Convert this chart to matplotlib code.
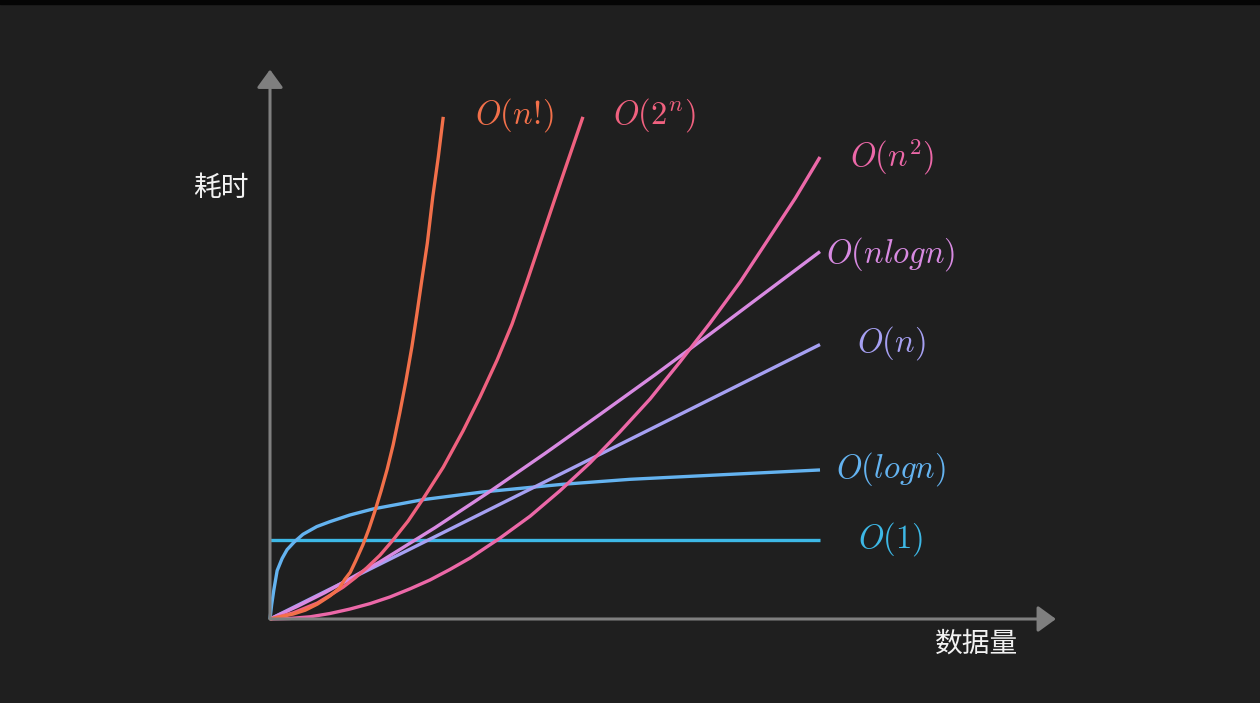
import matplotlib
matplotlib.use("Agg")
import matplotlib.pyplot as plt
from matplotlib.patches import Rectangle

plt.rcParams['mathtext.fontset'] = 'cm'

# values (x: data size, y: time), both on a 0-100 scale
x_const = [0, 100]
y_const = [14.4, 14.4]

x_log = [0, 0.3, 0.7, 1.3, 2.2, 3.1, 4.4, 6.0, 8.5, 10.9, 14.5, 18.7, 27.8, 38.7, 53.3, 65.5, 83.6, 100]
y_log = [0, 2.6, 5.3, 8.8, 11.0, 12.6, 14.0, 15.4, 16.8, 17.7, 18.9, 20.0, 21.7, 23.1, 24.5, 25.4, 26.3, 27.1]

x_lin = [0, 50, 100]
y_lin = [0, 24.95, 49.9]

x_nlogn = [0, 5, 10, 20, 30, 40, 50, 60, 70, 80, 90, 100]
y_nlogn = [0, 2.3, 4.8, 10.4, 16.6, 23.2, 30.1, 37.2, 44.4, 51.8, 59.3, 66.8]

x_sq = [0, 3.6, 7.3, 10.9, 14.5, 18.2, 21.8, 25.5, 29.1, 32.7, 36.4, 41.8, 47.3, 52.7,
        58.2, 63.6, 69.1, 74.5, 80.0, 85.5, 90.9, 95.5, 100]
y_sq = [0, 0.1, 0.4, 1.0, 1.8, 2.8, 4.0, 5.5, 7.1, 9.0, 11.1, 14.7, 18.7, 23.3,
        28.4, 34.0, 40.0, 46.7, 53.8, 61.3, 69.5, 76.5, 84.0]

x_exp = [0, 4.2, 8.6, 10.9, 13.3, 15.5, 17.6, 20.0, 22.4, 25.1, 27.8, 31.5, 35.1,
         38.2, 41.3, 44.0, 46.7, 51.8, 56.9]
y_exp = [0, 1.1, 2.9, 4.3, 5.8, 7.5, 9.3, 11.6, 14.4, 17.8, 21.8, 27.6, 34.2,
         40.4, 47.1, 53.6, 61.3, 76.4, 91.3]

x_fact = [0, 4.2, 6.4, 8.6, 10.9, 12.6, 13.6, 14.6, 15.6, 16.9, 18.0, 19.1, 20.2, 21.3,
          22.4, 23.6, 24.7, 25.8, 26.7, 27.6, 28.6, 29.6, 30.6, 31.5]
y_fact = [0, 0.9, 1.6, 2.7, 4.2, 5.6, 7.2, 8.5, 10.6, 13.5, 16.4, 19.7, 23.3, 27.2,
          31.7, 37.5, 43.2, 49.5, 55.4, 61.6, 68.3, 76.8, 84.0, 91.3]

labels = [r'$O(1)$', r'$O(logn)$', r'$O(n)$', r'$O(nlogn)$', r'$O(n^2)$', r'$O(2^n)$', r'$O(n!\!)$']
colors = ['#3db8e6', '#64b3f0', '#a6a0f2', '#d88ae2', '#ec68a8', '#f0617f', '#f2704a']
label_pos = [(106.9, 14.6), (102.9, 27.3), (106.7, 50.2), (101.1, 66.4),
             (105.5, 84.0), (62.4, 91.7), (37.3, 91.7)]

bg = '#1f1f1f'
fig = plt.figure(figsize=(12.6, 7.03), dpi=100, facecolor=bg)
ax = fig.add_axes([0, 0, 1, 1])
ax.set_facecolor(bg)
ax.set_xlim(-270 / 5.5, 990 / 5.5)
ax.set_ylim(-84 / 5.5, 619 / 5.5)
ax.axis('off')

# thin black strip along the top edge
fig.patches.append(Rectangle((0, 1 - 4 / 703), 1, 4 / 703, transform=fig.transFigure,
                             color='#050505', zorder=0))

# axes with arrow heads
axis_col = '#7f7f7f'
arrow = dict(arrowstyle='-|>,head_length=0.55,head_width=0.4', color=axis_col,
             lw=2.2, shrinkA=0, shrinkB=0, mutation_scale=20)
ax.annotate('', xy=(0, 99.9), xytext=(0, 0), arrowprops=arrow)
ax.annotate('', xy=(142.9, 0), xytext=(0, 0), arrowprops=arrow)

series = [(x_const, y_const), (x_log, y_log), (x_lin, y_lin), (x_nlogn, y_nlogn),
          (x_sq, y_sq), (x_exp, y_exp), (x_fact, y_fact)]
for (xs, ys), lab, col, (lx, ly) in zip(series, labels, colors, label_pos):
    ax.plot(xs, ys, color=col, lw=2.4, solid_capstyle='butt', solid_joinstyle='round')
    ax.text(lx, ly, lab, color=col, fontsize=23.5, ha='left', va='center')

cjk = ['Noto Sans CJK SC', 'DejaVu Sans']
ax.text(-8.9, 78.4, '耗时', color='#f2f2f2', fontsize=20, family=cjk, ha='center', va='center')
ax.text(128.5, -4.4, '数据量', color='#f2f2f2', fontsize=20, family=cjk, ha='center', va='center')

fig.savefig('out.png', dpi=100, facecolor=bg)
